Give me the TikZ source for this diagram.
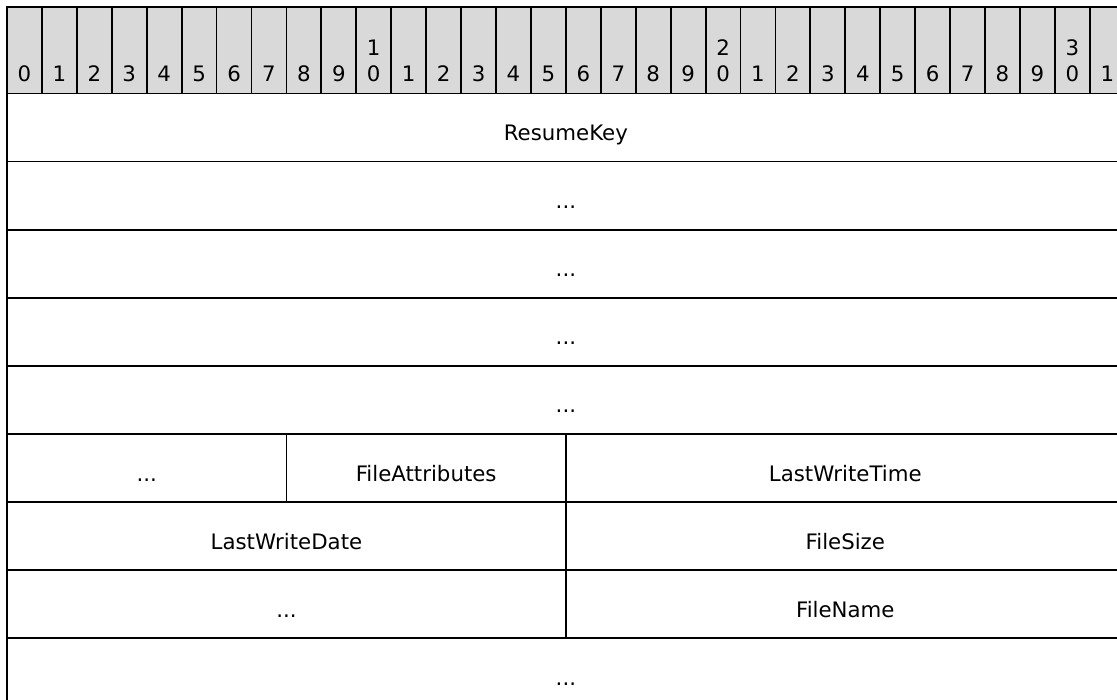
\documentclass[tikz,border=0pt]{standalone}
\usepackage{fontspec}
\setmainfont{DejaVu Sans}
\definecolor{hdrgray}{HTML}{D9D9D9}
\begin{document}
\begin{tikzpicture}[x=1pt,y=-1pt,
  txt/.style={font=\fontsize{21.3}{26}\selectfont, text=black},
  hcell/.style={draw=black, fill=hdrgray, line width=1.8pt, inner sep=0pt, outer sep=0pt,
    anchor=north west, minimum width=34.93pt, minimum height=86.5pt},
  hlab/.style={txt, anchor=base, inner sep=0pt},
  cell/.style={txt, draw=black, line width=1.8pt, inner sep=0pt, outer sep=0pt,
    anchor=north west, minimum height=68.1pt, text height=26pt, text depth=0pt}]
\useasboundingbox (0,0) rectangle (1117,700);
\clip (0,0) rectangle (1117,700);
% header
\coordinate (lbase) at (0,81.5);
\coordinate (ubase) at (0,55.5);
\foreach \k in {0,...,31} {
  \node[hcell] (h\k) at ({7+\k*34.93},7) {};
  \pgfmathtruncatemacro\d{mod(\k,10)}
  \node[hlab] (l\k) at (h\k.center |- lbase) {\d};
}
\node[hlab] (u10) at (h10.center |- ubase) {1};
\node[hlab] (u20) at (h20.center |- ubase) {2};
\node[hlab] (u30) at (h30.center |- ubase) {3};
% rows
\node[cell, minimum width=1117.76pt] (resumekey) at (7,93.5) {ResumeKey};
\node[cell, minimum width=1117.76pt] (r1) at (7,161.6) {...};
\node[cell, minimum width=1117.76pt] (r2) at (7,229.7) {...};
\node[cell, minimum width=1117.76pt] (r3) at (7,297.8) {...};
\node[cell, minimum width=1117.76pt] (r4) at (7,365.9) {...};
\node[cell, minimum width=279.44pt] (r5a) at (7,434.0) {...};
\node[cell, minimum width=279.44pt] (fileattributes) at (286.44,434.0) {FileAttributes};
\node[cell, minimum width=558.88pt] (lastwritetime) at (565.88,434.0) {LastWriteTime};
\node[cell, minimum width=558.88pt] (lastwritedate) at (7,502.1) {LastWriteDate};
\node[cell, minimum width=558.88pt] (filesize) at (565.88,502.1) {FileSize};
\node[cell, minimum width=558.88pt] (r7a) at (7,570.2) {...};
\node[cell, minimum width=558.88pt] (filename) at (565.88,570.2) {FileName};
\node[cell, minimum width=1117.76pt] (r8) at (7,638.3) {...};
\end{tikzpicture}
\end{document}
